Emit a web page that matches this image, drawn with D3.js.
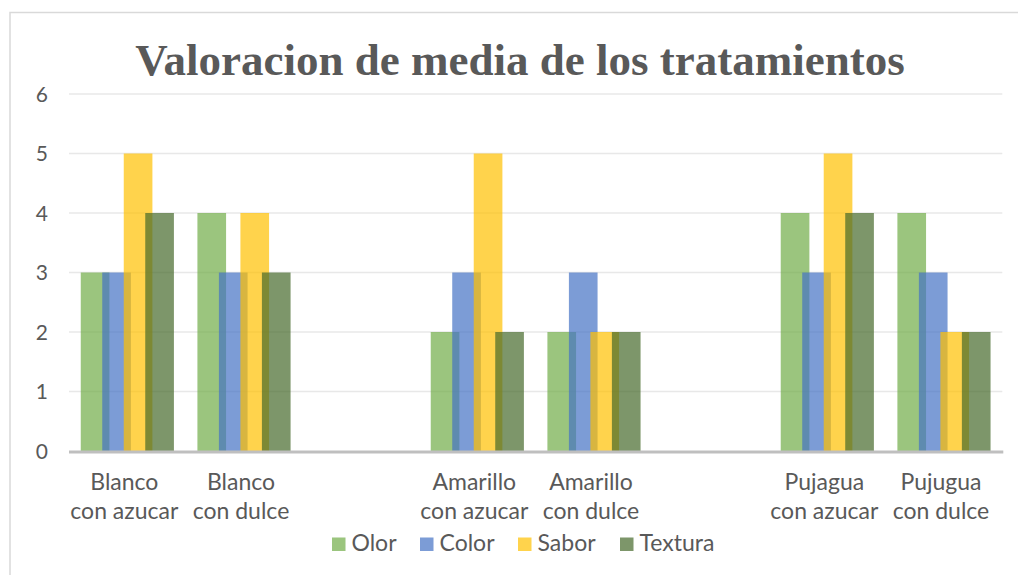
<!DOCTYPE html>
<html><head><meta charset="utf-8">
<script src="https://cdn.jsdelivr.net/npm/d3@7"></script>
<style>body{margin:0;background:#fff}svg{display:block}</style>
</head><body>
<svg id="c" width="1018" height="575"></svg>
<script>
const categories = [["Blanco","con azucar"],["Blanco","con dulce"],["",""],["Amarillo","con azucar"],["Amarillo","con dulce"],["",""],["Pujagua","con azucar"],["Pujugua","con dulce"]];
const seriesNames = ["Olor","Color","Sabor","Textura"];
const olor    = [3,4,null,2,2,null,4,4];
const color   = [3,3,null,3,3,null,3,3];
const sabor   = [5,4,null,5,2,null,5,2];
const textura = [4,3,null,2,2,null,4,2];
const yTicks = [0,1,2,3,4,5,6];
const seriesColors = ["#70AD47","#4472C4","#FFC000","#466A2B"];
const title = "Valoracion de media de los tratamientos";

const values = [olor,color,sabor,textura];
const svg = d3.select("#c");
const L = 69, R = 1002.3, T = 94, B = 451;
const labelFont = "Lato, 'Open Sans', sans-serif";
const textCol = "#595959";

// chart border
svg.append("rect").attr("x",10).attr("y",12.5).attr("width",1040).attr("height",600)
  .attr("fill","none").attr("stroke","#D9D9D9").attr("stroke-width",1.5);

const x = d3.scaleBand().domain(d3.range(categories.length)).range([L,R]).paddingInner(0).paddingOuter(0);
const y = d3.scaleLinear().domain([0,6]).range([B,T]);

// gridlines
svg.append("g").selectAll("line").data(yTicks.filter(d=>d>0)).join("line")
  .attr("x1",L).attr("x2",R).attr("y1",d=>y(d)).attr("y2",d=>y(d))
  .attr("stroke","#E8E8E8").attr("stroke-width",1.5);

// y tick labels
svg.append("g").selectAll("text").data(yTicks).join("text")
  .attr("x",48).attr("y",d=>y(d)).attr("dy","0.36em").attr("text-anchor","end")
  .attr("font-family",labelFont).attr("font-size",21).attr("fill",textCol).text(d=>d);

// bars: Excel-style with overlap 25%, gap width ~82%
const slot = x.bandwidth();
const nS = seriesNames.length;
const overlap = 0.25, gapW = 0.82;
// group width = w*(nS - (nS-1)*overlap), gap = gapW*w
const w = slot / (nS - (nS-1)*overlap + gapW);
const stepS = w*(1-overlap);
const groupW = w*(nS - (nS-1)*overlap);
values.forEach((vals,si)=>{
  svg.append("g").selectAll("rect").data(vals.map((v,i)=>({v,i})).filter(d=>d.v!=null)).join("rect")
    .attr("x",d=>x(d.i)+(slot-groupW)/2+si*stepS)
    .attr("width",w)
    .attr("y",d=>y(d.v)).attr("height",d=>y(0)-y(d.v))
    .attr("fill",seriesColors[si]).attr("fill-opacity",0.7);
});

// x axis line
svg.append("line").attr("x1",L).attr("x2",R+1).attr("y1",B+1).attr("y2",B+1)
  .attr("stroke","#BFBFBF").attr("stroke-width",3);

// x labels
const xl = svg.append("g").selectAll("text").data(categories).join("text")
  .attr("x",(d,i)=>x(i)+slot/2-3).attr("y",490)
  .attr("text-anchor","middle").attr("font-family",labelFont).attr("font-size",23).attr("fill",textCol);
xl.append("tspan").attr("x",(d,i)=>x(i)+slot/2-3).attr("y",490).text(d=>d[0]);
xl.append("tspan").attr("x",(d,i)=>x(i)+slot/2-3).attr("y",519).text(d=>d[1]);

// title
svg.append("text").attr("x",520).attr("y",75).attr("text-anchor","middle")
  .attr("font-family","'Liberation Serif','Times New Roman',serif").attr("font-weight","bold")
  .attr("font-size",45).attr("fill",textCol).text(title);

// legend
const legX = [332,420,518,620];
const lg = svg.append("g").selectAll("g").data(seriesNames).join("g")
  .attr("transform",(d,i)=>`translate(${legX[i]},537.5)`);
lg.append("rect").attr("width",13.5).attr("height",13.5).attr("fill",(d,i)=>seriesColors[i]).attr("fill-opacity",0.7);
lg.append("text").attr("x",19.5).attr("y",13.5).attr("font-family",labelFont).attr("font-size",23).attr("fill",textCol).text(d=>d);
</script>
</body></html>
